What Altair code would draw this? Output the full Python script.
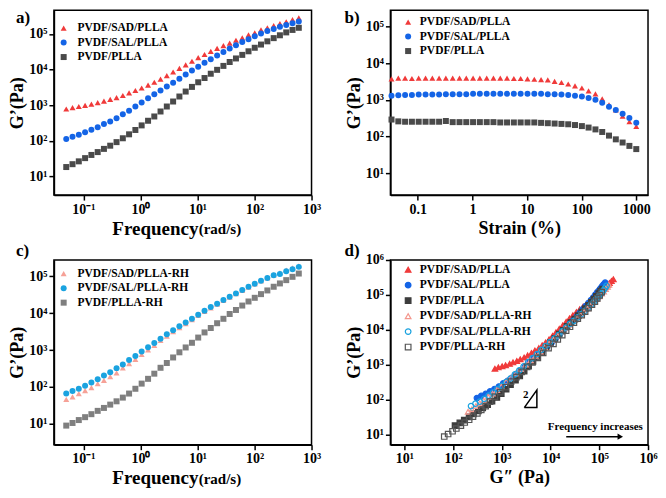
import altair as alt
import pandas as pd

FONT = "Liberation Serif"

# ---------------- data ----------------
names_a = ["PVDF/SAD/PLLA", "PVDF/SAL/PLLA", "PVDF/PLLA"]
names_c = ["PVDF/SAD/PLLA-RH", "PVDF/SAL/PLLA-RH", "PVDF/PLLA-RH"]

freq = [0.05, 0.0644, 0.083, 0.107, 0.138, 0.178, 0.229, 0.295, 0.381, 0.491,
        0.632, 0.815, 1.05, 1.36, 1.75, 2.25, 2.90, 3.74, 4.82, 6.21,
        8.00, 10.3, 13.3, 17.1, 22.1, 28.5, 36.7, 47.3, 61.0, 78.5,
        101, 130, 168, 217, 279, 360, 464, 598]

a_sad = [776, 851, 912, 977, 1070, 1175, 1290, 1445, 1620, 1860,
         2190, 2570, 3020, 3630, 4370, 5370, 6760, 8510, 10700, 13500,
         17000, 21400, 26300, 32400, 38900, 46800, 55000, 66100, 77600, 93300,
         107000, 129000, 148000, 170000, 195000, 219000, 251000, 282000]
a_sal = [112, 129, 148, 174, 204, 240, 295, 347, 427, 550,
         692, 912, 1175, 1550, 2000, 2570, 3310, 4270, 5500, 7240,
         9330, 12000, 15500, 19500, 24500, 30900, 38900, 47900, 58900, 70800,
         85100, 102000, 120000, 138000, 158000, 178000, 200000, 224000]
a_plla = [18.2, 21.9, 26.3, 32.4, 39.8, 47.9, 58.9, 72.4, 91.2, 117,
          151, 200, 269, 363, 479, 661, 912, 1260, 1740, 2400,
          3240, 4370, 5750, 7590, 9770, 12600, 16200, 20400, 25700, 32400,
          40700, 50100, 61700, 75900, 91200, 110000, 129000, 148000]

strain = [0.0331, 0.0441, 0.0587, 0.0782, 0.104, 0.139, 0.185, 0.246, 0.327, 0.436,
          0.581, 0.773, 1.03, 1.37, 1.83, 2.43, 3.24, 4.31, 5.74, 7.65,
          10.2, 13.6, 18.1, 24.0, 32.0, 42.7, 56.8, 75.6, 101, 134,
          179, 238, 317, 422, 562, 748, 1000]
b_sad = [3720, 3890, 3890, 3800, 3890, 3890, 3890, 3890, 3890, 3890,
         3890, 3890, 3890, 3890, 3890, 3890, 3890, 3890, 3800, 3800,
         3720, 3630, 3550, 3470, 3160, 2950, 2690, 2400, 2090, 1740,
         1450, 1050, 724, 525, 355, 251, 186]
b_sal = [1290, 1320, 1350, 1350, 1380, 1380, 1380, 1380, 1410, 1410,
         1410, 1410, 1450, 1450, 1450, 1450, 1450, 1450, 1450, 1450,
         1450, 1450, 1450, 1410, 1410, 1380, 1350, 1290, 1230, 1120,
         1000, 832, 646, 525, 417, 316, 234]
b_plla = [288, 257, 251, 251, 251, 251, 251, 251, 263, 245,
          245, 245, 245, 245, 245, 245, 240, 240, 240, 240,
          240, 240, 234, 229, 224, 219, 214, 204, 191, 174,
          155, 132, 105, 83, 68, 55, 45]

c_sad_rh = [45.7, 53.7, 66.1, 79.4, 95.5, 123, 151, 191, 240, 331,
            427, 562, 759, 1020, 1350, 1820, 2400, 3160, 4070, 5250,
            6760, 8710, 11200, 14100, 17800, 22400, 27500, 33900, 41700, 51300,
            63100, 75900, 91200, 110000, 126000, 148000, 170000, 195000]
c_sal_rh = [66.1, 77.6, 89.1, 107, 132, 162, 204, 251, 324, 407,
            537, 692, 912, 1200, 1550, 2040, 2690, 3470, 4470, 5620,
            7080, 9120, 11700, 14800, 18200, 22900, 28200, 34700, 42700, 52500,
            63100, 75900, 91200, 107000, 117000, 138000, 158000, 182000]
c_plla_rh = [8.91, 10.5, 12.6, 15.1, 18.2, 22.4, 26.9, 33.1, 40.7, 51.3,
             66.1, 89.1, 123, 166, 229, 331, 447, 631, 871, 1180,
             1580, 2190, 3020, 3980, 5370, 7080, 9550, 12300, 16200, 20900,
             26300, 33100, 41700, 52500, 64600, 79400, 97700, 120000]

# G'' (loss modulus) used in panel d, paired with the G' lists above
d_gpp_sad = [724, 851, 1020, 1200, 1450, 1700, 2040, 2400, 2880, 3390,
             4070, 4790, 5750, 6760, 7940, 9330, 11000, 12900, 15100, 17800,
             20900, 24500, 28800, 33900, 39800, 46800, 55000, 63100, 72400, 83200,
             95500, 107000, 120000, 135000, 148000, 162000, 178000, 195000]
d_gpp_sal = [309, 380, 468, 575, 708, 871, 1070, 1320, 1620, 2000,
             2450, 3020, 3720, 4570, 5620, 6920, 8510, 10500, 12600, 15100,
             18200, 21400, 25100, 29500, 34700, 39800, 45700, 52500, 60300, 67600,
             75900, 83200, 91200, 100000, 107000, 115000, 123000, 132000]
d_gpp_plla = [110, 138, 170, 214, 263, 331, 407, 513, 631, 794,
              977, 1230, 1510, 1910, 2340, 2880, 3550, 4370, 5370, 6610,
              8130, 10000, 12300, 15100, 18200, 21900, 26300, 31600, 37200, 43700,
              51300, 60300, 69200, 77600, 87100, 97700, 107000, 117000]
d_gpp_sad_rh = [204, 245, 295, 355, 427, 525, 646, 794, 977, 1230,
                1550, 1950, 2450, 3090, 3890, 4900, 6170, 7590, 9330, 11500,
                14100, 17000, 20400, 24500, 29500, 35500, 41700, 49000, 57500, 67600,
                77600, 89100, 100000, 112000, 123000, 135000, 148000, 158000]
d_gpp_sal_rh = [234, 288, 355, 437, 537, 661, 813, 1000, 1230, 1510,
                1860, 2290, 2820, 3470, 4270, 5250, 6460, 7940, 9770, 12000,
                14500, 17400, 20900, 25100, 30200, 36300, 42700, 50100, 58900, 67600,
                77600, 87100, 97700, 107000, 115000, 123000, 132000, 141000]
d_gpp_plla_rh = [66.1, 79.4, 97.7, 117, 145, 174, 214, 257, 316, 380,
                 468, 575, 724, 933, 1200, 1550, 2000, 2570, 3310, 4270,
                 5500, 7080, 9120, 11500, 14100, 17400, 20900, 25100, 30200, 36300,
                 43700, 51300, 60300, 70800, 81300, 91200, 102000, 112000]

# slope-2 triangle and arrow annotation in panel d (data units)
slope_x = [2900, 5250, 5250, 2900]
slope_y = [60, 60, 190, 60]
slope_lbl = ["2"]
arrow_x = [21000]
arrow_x2 = [270000]
arrow_y = [8.8]
arrow_text = ["Frequency increases"]

# ---------------- styles ----------------
RED, BLUE, GRAY = "#F03A3A", "#1464E6", "#4A4A4A"
SALMON, CYAN, GRAY2 = "#F6A197", "#1AA3E0", "#7F7F7F"
W, H1, H2 = 258, 185, 185

POW = ("datum.value < 0.5 ? '10⁻¹' : datum.value < 5 ? '10⁰' : datum.value < 50 ? '10¹' : "
       "datum.value < 500 ? '10²' : datum.value < 5000 ? '10³' : datum.value < 50000 ? '10⁴' : "
       "datum.value < 500000 ? '10⁵' : '10⁶'")
PLAIN = ("datum.value < 0.5 ? '0.1' : datum.value < 5 ? '1' : datum.value < 50 ? '10' : "
         "datum.value < 500 ? '100' : '1000'")


def axis(title, values, expr, tpad, **extra):
    opts = dict(title=title, values=values, labelExpr=expr, grid=False,
                domainColor="black", domainWidth=1.5, tickColor="black",
                tickWidth=1.5, tickSize=5, labelFont=FONT, labelFontWeight="bold",
                labelFontSize=14, labelColor="black", labelPadding=2,
                titleFont=FONT, titleFontWeight="bold", titleFontSize=18,
                titleColor="black", titlePadding=tpad, labelOverlap=False,
                labelFlush=False)
    opts.update(extra)
    return alt.Axis(**opts)


def legend(lx, ly, off, size):
    return alt.Legend(orient="none", legendX=lx, legendY=ly, title=None,
                      labelFont=FONT, labelFontWeight="bold", labelFontSize=11.5,
                      labelColor="black", labelOffset=off, rowPadding=1.5,
                      padding=0, symbolSize=size)


def long_df(xs, ys_list, names):
    rows = []
    for name, ys in zip(names, ys_list):
        for xv, yv in zip(xs, ys):
            rows.append({"series": name, "x": xv, "y": yv})
    return pd.DataFrame(rows)


def text_layer(txt, lx, ly, size=17, baseline="top"):
    return alt.Chart(pd.DataFrame({"t": [txt]})).mark_text(
        font=FONT, fontWeight="bold", fontSize=size, align="left", baseline=baseline,
        color="black").encode(text="t:N", x=alt.value(lx), y=alt.value(ly))


yvals5 = [10, 100, 1000, 10000, 100000]
xvals_f = [0.1, 1, 10, 100, 1000]
G1 = "G’(Pa)"


def panel(df, names, colors, xdom, ydom, xaxis, yvals, leg, size):
    shapes = ["triangle-up", "circle", "square"]
    lg = legend(*leg, size)
    return alt.Chart(df).mark_point(filled=True, size=size, opacity=1).encode(
        x=alt.X("x:Q", scale=alt.Scale(type="log", domain=xdom, nice=False), axis=xaxis),
        y=alt.Y("y:Q", scale=alt.Scale(type="log", domain=ydom, nice=False),
                axis=axis(G1, yvals, POW, 2)),
        color=alt.Color("series:N", scale=alt.Scale(domain=names, range=colors), legend=lg),
        shape=alt.Shape("series:N", scale=alt.Scale(domain=names, range=shapes), legend=lg),
    )


def freq_axis():
    return axis("Frequency", xvals_f, POW, 3, titleX=58, titleAlign="left",
                titleY=39, titleBaseline="alphabetic", titleFontSize=19)


df_a = long_df(freq, [a_sad, a_sal, a_plla], names_a)
df_b = long_df(strain, [b_sad, b_sal, b_plla], names_a)
df_c = long_df(freq, [c_sad_rh, c_sal_rh, c_plla_rh], names_c)

pa = alt.layer(
    panel(df_a, names_a, [RED, BLUE, GRAY], [0.0304, 1000], [2.97, 457000],
          freq_axis(), yvals5, (4, 12, 8), 36),
    text_layer("a)", -38, 0),
    text_layer("(rad/s)", 145, H1 + 39, 15, "alphabetic"),
).properties(width=W, height=H1)

pb = alt.layer(
    panel(df_b, names_a, [RED, BLUE, GRAY], [0.0316, 1640], [2.5, 275000],
          axis("Strain (%)", xvals_f, PLAIN, 3), yvals5, (12, 6, 6), 36),
    text_layer("b)", -46, 0),
).properties(width=W, height=H1)

pc = alt.layer(
    panel(df_c, names_c, [SALMON, CYAN, GRAY2], [0.0304, 1000], [2.7, 280000],
          freq_axis(), yvals5, (4, 8, 8), 36),
    text_layer("c)", -38, -17),
    text_layer("(rad/s)", 145, H2 + 39, 15, "alphabetic"),
).properties(width=W, height=H2)

# panel d
names_d = names_a + names_c
d_pairs = [(d_gpp_sad, a_sad), (d_gpp_sal, a_sal), (d_gpp_plla, a_plla),
           (d_gpp_sad_rh, c_sad_rh), (d_gpp_sal_rh, c_sal_rh), (d_gpp_plla_rh, c_plla_rh)]
rows = []
for name, (gx, gy) in zip(names_d, d_pairs):
    for xv, yv in zip(gx, gy):
        rows.append({"series": name, "x": xv, "y": yv})
df_d = pd.DataFrame(rows)

lg_d = alt.Legend(orient="none", legendX=12, legendY=4, title=None,
                  labelFont=FONT, labelFontWeight="bold", labelFontSize=11.5,
                  labelColor="black", labelOffset=6, rowPadding=2.5, padding=0,
                  symbolSize=32, symbolStrokeWidth=1.2)
xvals_d = [10, 100, 1000, 10000, 100000, 1000000]
pts_d = alt.Chart(df_d).mark_point(filled=False, size=30, opacity=1, strokeWidth=1.2).encode(
    x=alt.X("x:Q", scale=alt.Scale(type="log", domain=[5.2, 1000000], nice=False),
            axis=axis("G″ (Pa)", xvals_d, POW, 3)),
    y=alt.Y("y:Q", scale=alt.Scale(type="log", domain=[5.2, 1000000], nice=False),
            axis=axis(G1, xvals_d, POW, 2)),
    shape=alt.Shape("series:N", scale=alt.Scale(
        domain=names_d, range=["triangle-up", "circle", "square"] * 2), legend=lg_d),
    fill=alt.Fill("series:N", scale=alt.Scale(
        domain=names_d, range=[RED, BLUE, "#3C3C3C", "transparent", "transparent", "transparent"]),
        legend=lg_d),
    stroke=alt.Stroke("series:N", scale=alt.Scale(
        domain=names_d, range=[RED, BLUE, "#3C3C3C", "#F4968C", "#19A2DF", "#555555"]),
        legend=lg_d),
)

tri = alt.Chart(pd.DataFrame({"x": slope_x, "y": slope_y, "o": [0, 1, 2, 3]})).mark_line(
    color="black", strokeWidth=1.5).encode(x="x:Q", y="y:Q", order="o:O")
tri_lbl = alt.Chart(pd.DataFrame({"x": [3100], "y": [140], "t": slope_lbl})).mark_text(
    font=FONT, fontWeight="bold", fontSize=11, color="black").encode(x="x:Q", y="y:Q", text="t:N")
arr = alt.Chart(pd.DataFrame({"x": arrow_x, "x2": arrow_x2, "y": arrow_y})).mark_rule(
    color="black", strokeWidth=1.5).encode(x="x:Q", x2="x2:Q", y="y:Q")
arr_head = alt.Chart(pd.DataFrame({"x": arrow_x2, "y": arrow_y})).mark_point(
    shape="triangle-right", filled=True, color="black", size=40, opacity=1).encode(x="x:Q", y="y:Q")
arr_txt = alt.Chart(pd.DataFrame({"x": [83000], "y": [16.6], "t": arrow_text})).mark_text(
    font=FONT, fontWeight="bold", fontSize=11, color="black").encode(x="x:Q", y="y:Q", text="t:N")

pd_ = alt.layer(pts_d, tri, tri_lbl, arr, arr_head, arr_txt,
                text_layer("d)", -46, -17)).properties(width=W, height=H2)

RES = dict(color="independent", shape="independent", fill="independent", stroke="independent")
row1 = alt.hconcat(pa, pb, spacing=22).resolve_scale(**RES)
row2 = alt.hconcat(pc, pd_, spacing=22).resolve_scale(**RES)
chart = alt.vconcat(row1, row2, spacing=2).resolve_scale(**RES).properties(
    padding={"left": 0, "top": 0, "right": 0, "bottom": 0}
).configure_view(stroke="black", strokeWidth=1.5)

chart.save("out.html", embed_options={"renderer": "svg", "actions": False})
